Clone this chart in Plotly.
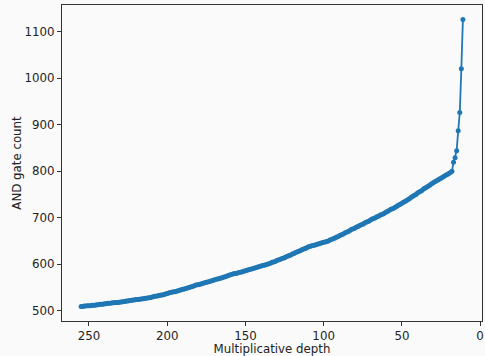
import plotly.graph_objects as go

depth = list(range(255, 10, -1))

and_gates = [
    509, 509, 510, 510, 511, 511,                      # 255..250
    511, 512, 512, 512, 513, 513, 514, 514, 514, 515,  # 249..240
    515, 516, 516, 516, 517, 517, 518, 518, 518, 519,  # 239..230
    519, 520, 520, 521, 521, 522, 522, 523, 523, 524,  # 229..220
    524, 525, 525, 526, 526, 527, 527, 528, 528, 529,  # 219..210
    530, 531, 531, 532, 533, 534, 534, 535, 536, 537,  # 209..200
    538, 539, 540, 541, 541, 542, 543, 544, 545, 546,  # 199..190
    547, 548, 549, 550, 551, 552, 553, 555, 556, 556,  # 189..180
    557, 558, 559, 560, 561, 562, 563, 564, 565, 566,  # 179..170
    567, 568, 569, 570, 571, 572, 573, 574, 576, 577,  # 169..160
    578, 579, 580, 580, 581, 582, 583, 584, 585, 586,  # 159..150
    587, 588, 589, 590, 591, 592, 593, 594, 595, 596,  # 149..140
    597, 598, 599, 600, 601, 602, 604, 605, 606, 608,  # 139..130
    609, 610, 612, 613, 614, 616, 617, 619, 620, 622,  # 129..120
    623, 625, 626, 628, 629, 631, 632, 634, 635, 637,  # 119..110
    638, 639, 640, 641, 642, 643, 644, 645, 646, 647,  # 109..100
    648, 649, 650, 652, 653, 655, 656, 658, 659, 661,  # 99..90
    663, 664, 666, 668, 669, 671, 673, 675, 676, 678,  # 89..80
    680, 681, 683, 685, 686, 688, 690, 691, 693, 695,  # 79..70
    697, 698, 700, 702, 703, 705, 707, 708, 710, 712,  # 69..60
    714, 716, 718, 719, 721, 723, 725, 727, 729, 731,  # 59..50
    733, 735, 737, 739, 741, 744, 746, 748, 750, 753,  # 49..40
    755, 757, 759, 762, 764, 766, 768, 770, 773, 775,  # 39..30
    777, 779, 781, 783, 785, 787, 789, 791, 793, 795,  # 29..20
    797, 800, 819, 829, 844, 887, 926, 1020, 1126,     # 19..11
]
assert len(depth) == len(and_gates)

x_ticks = [250, 200, 150, 100, 50, 0]
y_ticks = [500, 600, 700, 800, 900, 1000, 1100]

BG = "#fafafa"
FONT = dict(family="DejaVu Sans", size=11.8, color="#222222")

fig = go.Figure(
    go.Scatter(
        x=depth,
        y=and_gates,
        mode="lines+markers",
        line=dict(color="#1f77b4", width=1.8),
        marker=dict(color="#1f77b4", size=5),
        showlegend=False,
    )
)

axis_common = dict(
    showgrid=False,
    zeroline=False,
    showline=True,
    linecolor="#333333",
    linewidth=1,
    mirror=True,
    ticks="outside",
    ticklen=4,
    tickwidth=1,
    tickcolor="#333333",
    tickfont=FONT,
    automargin=False,
)

fig.update_layout(
    width=485,
    height=356,
    margin=dict(l=62, r=3, t=5, b=35, autoexpand=False),
    paper_bgcolor=BG,
    plot_bgcolor=BG,
    font=FONT,
    xaxis=dict(
        range=[267.2, -1.2],
        tickvals=x_ticks,
        title=dict(text="Multiplicative depth", font=FONT, standoff=0),
        **axis_common,
    ),
    yaxis=dict(
        range=[478, 1157],
        tickvals=y_ticks,
        title=dict(text="AND gate count", font=FONT, standoff=0),
        **axis_common,
    ),
)

fig.write_html(
    "out.html",
    config={"displayModeBar": False},
    post_script="document.body.style.margin='0';document.body.style.padding='0';"
    "document.body.style.background='#fafafa';document.body.style.overflow='hidden';",
)
